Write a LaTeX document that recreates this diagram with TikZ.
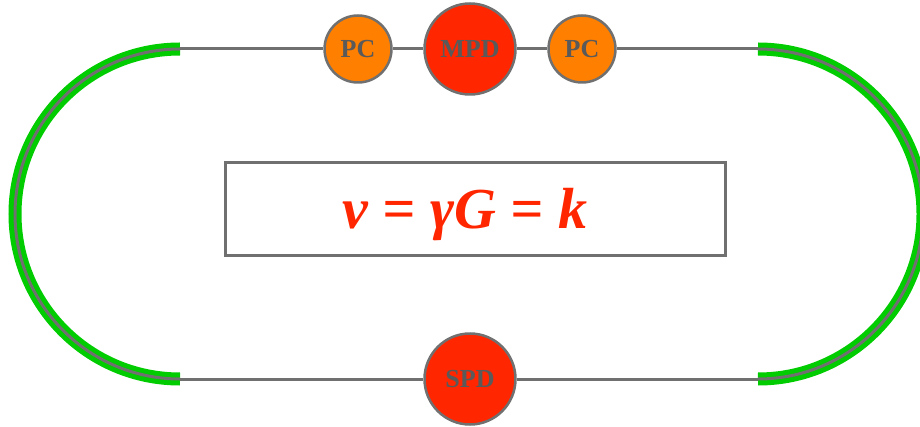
\documentclass[tikz,border=0pt]{standalone}
\usepackage{fontspec}
\setmainfont{Liberation Serif}
\definecolor{ringgray}{HTML}{707070}
\definecolor{labgray}{HTML}{5A5A5A}
\definecolor{pcorange}{HTML}{FF7F00}
\definecolor{pdred}{HTML}{FF2600}
\definecolor{arcgreen}{HTML}{00CC00}
\begin{document}
\begin{tikzpicture}[x=1pt,y=1pt,
  beam/.style={draw=ringgray,line width=3pt},
  dev/.style={circle,draw=ringgray,line width=2.5pt,inner sep=0pt,
    font=\fontsize{26}{26}\selectfont\bfseries,text=labgray},
  pc/.style={dev,fill=pcorange,minimum size=67pt},
  pd/.style={dev,fill=pdred,minimum size=91pt},
  greenarc/.style={draw=arcgreen,line width=13pt},
  eqframe/.style={draw=ringgray,line width=3pt,rectangle,minimum width=500pt,minimum height=92pt},
  eqtext/.style={font=\fontsize{58}{60}\selectfont\bfseries\itshape,text=pdred,inner sep=0pt}
]
\useasboundingbox (0,0) rectangle (920,426);
% arcs
\draw[greenarc] (180,377) arc[start angle=90,end angle=270,radius=165];
\draw[beam] (180,377) arc[start angle=90,end angle=270,radius=165];
\draw[greenarc] (758,377) arc[start angle=90,end angle=-90,radius=165];
\draw[beam] (758,377) arc[start angle=90,end angle=-90,radius=165];
% coordinates
\coordinate (tl) at (180,377);
\coordinate (tr) at (758,377);
\coordinate (bl) at (180,47);
\coordinate (br) at (758,47);
% nodes
\node[pc] (pc1) at (358,377) {PC};
\node[pd] (mpd) at (470,377) {MPD};
\node[pc] (pc2) at (582,377) {PC};
\node[pd] (spd) at (470,47) {SPD};
\node[eqframe] (eq) at (475,217) {};
\node[eqtext] (eqt) at (465,211) {v = γG = k};
% lines
\draw[beam] (tl) -- (pc1);
\draw[beam] (pc1) -- (mpd);
\draw[beam] (mpd) -- (pc2);
\draw[beam] (pc2) -- (tr);
\draw[beam] (bl) -- (spd);
\draw[beam] (spd) -- (br);
\end{tikzpicture}
\end{document}
